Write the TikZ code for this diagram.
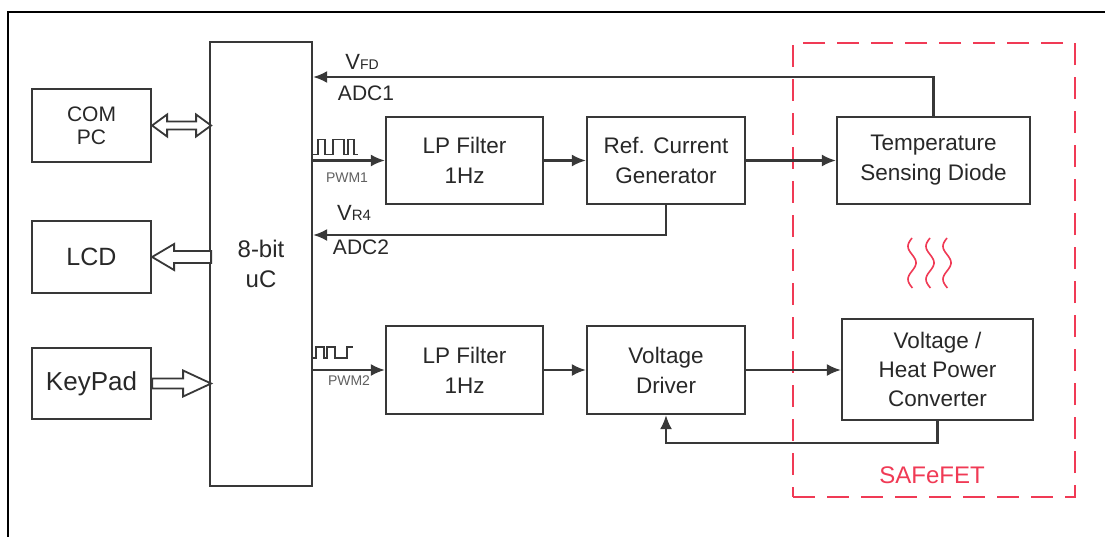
\documentclass[tikz,border=0pt]{standalone}
\usepackage{fontspec}
\setmainfont{Liberation Sans}
\usetikzlibrary{calc,arrows.meta}
\definecolor{ln}{HTML}{383838}
\definecolor{txt}{HTML}{282828}
\definecolor{sred}{HTML}{F03A55}
\begin{document}
\begin{tikzpicture}[x=1pt,y=-1pt]
\tikzset{
  box/.style={draw=ln, line width=2.2pt, rectangle, inner sep=0pt, align=center, text=txt, font=\fontsize{22.5}{30}\selectfont},
  arr/.style={draw=ln, line width=2.2pt, -{Latex[length=14pt,width=12pt]}},
  blk/.style={draw=ln, line width=1.8pt, fill=white, line join=miter},
  lbl/.style={text=txt, inner sep=0pt, font=\fontsize{21}{21}\selectfont},
  pwm/.style={text=ln!80, inner sep=0pt, font=\fontsize{14}{14}\selectfont},
  wave/.style={draw=ln, line width=1.8pt},
  heat/.style={draw=sred, line width=1.6pt},
}
\useasboundingbox (0,0) rectangle (1105,536);
\fill[white] (0,0) rectangle (1105,536);
\draw[black, line width=1.6pt] (8,545) -- (8,12) -- (1115,12);

% boxes
\node[box, minimum width=102, minimum height=444, font=\fontsize{24}{30}\selectfont] (uc) at (261,264) {8-bit\\uC};
\node[box, minimum width=119, minimum height=73, font=\fontsize{21}{23}\selectfont] (com) at (91.5,125.5) {COM\\PC};
\node[box, minimum width=119, minimum height=72, font=\fontsize{25}{25}\selectfont] (lcd) at (91.5,257) {LCD};
\node[box, minimum width=119, minimum height=71, font=\fontsize{26}{26}\selectfont] (kp) at (91.5,383.5) {KeyPad};
\node[box, minimum width=157, minimum height=87] (lp1) at (464.5,160.5) {LP Filter\\1Hz};
\node[box, minimum width=158, minimum height=87] (ref) at (666,160.5) {Ref. Current\\Generator};
\node[box, minimum width=193, minimum height=87] (temp) at (933.5,160.5) {Temperature\\Sensing Diode};
\node[box, minimum width=157, minimum height=88] (lp2) at (464.5,370) {LP Filter\\1Hz};
\node[box, minimum width=158, minimum height=88] (vd) at (666,370) {Voltage\\Driver};
\node[box, minimum width=191, minimum height=101, font=\fontsize{22.5}{29}\selectfont] (conv) at (937.5,369.5) {Voltage /\\Heat Power\\Converter};

% SAFeFET region
\node[draw=sred, line width=2pt, dash pattern=on 22pt off 12pt, minimum width=282, minimum height=454, inner sep=0pt] (safe) at (934,270) {};
\node[text=sred, inner sep=0pt, font=\fontsize{24}{24}\selectfont] (safelbl) at (932,475) {SAFeFET};

% heat waves
\foreach \c in {912,930,947}
  \draw[heat, smooth, samples=40, domain=0:50] plot ({\c - 4*sin(\x*10.909)}, {238+\x});

% labels
\node[lbl] (vfd) at (362,62) {\fontsize{22}{22}\selectfont V{\fontsize{14}{14}\selectfont FD}};
\node[lbl] (adc1) at (366,93) {ADC1};
\node[lbl] (vr4) at (354,213) {\fontsize{22}{22}\selectfont V{\fontsize{15}{15}\selectfont R4}};
\node[lbl] (adc2) at (361,247) {ADC2};
\node[pwm] (pwm1) at (347,178) {PWM1};
\node[pwm] (pwm2) at (349,381) {PWM2};

% helper coordinates
\coordinate (ya) at (0,77);
\coordinate (yb) at (0,235);

% connectors
\draw[arr] (temp.north) |- (uc.east |- ya);
\draw[arr] (uc.east |- lp1.west) -- (lp1.west);
\draw[arr] (lp1.east) -- (ref.west);
\draw[arr] (ref.east) -- (temp.west);
\draw[arr] (ref.south) |- (uc.east |- yb);
\draw[arr] (uc.east |- lp2.west) -- (lp2.west);
\draw[arr] (lp2.east) -- (vd.west);
\draw[arr] (vd.east) -- (vd.east -| conv.west);
\draw[arr] (conv.south) -- ++(0,22) -| (vd.south);

% square waves
\draw[wave] ($(uc.east |- lp1.west)+(0,-6)$) -- ++(5,0) -- ++(0,-15) -- ++(7,0) -- ++(0,15) -- ++(8,0) -- ++(0,-15) -- ++(11,0) -- ++(0,15) -- ++(4,0) -- ++(0,-15) -- ++(6,0) -- ++(0,15) -- ++(4,0);
\draw[wave] ($(uc.east |- lp2.west)+(0,-12)$) -- ++(3,0) -- ++(0,-11) -- ++(8,0) -- ++(0,11) -- ++(3,0) -- ++(0,-11) -- ++(8,0) -- ++(0,11) -- ++(12,0) -- ++(0,-11) -- ++(6,0);

% block arrows
\draw[blk] (com.east) -- ++(15,-11) -- ++(0,7) -- ++(29,0) -- ++(0,-7) -- ++(15,11) -- ++(-15,11) -- ++(0,-7) -- ++(-29,0) -- ++(0,7) -- cycle;
\draw[blk] (lcd.east) -- ++(22,-13) -- ++(0,7) -- ++(37,0) -- ++(0,12) -- ++(-37,0) -- ++(0,7) -- cycle;
\draw[blk] ($(kp.east)+(0,-5)$) -- ++(31,0) -- ++(0,-8) -- ++(28,13) -- ++(-28,13) -- ++(0,-8) -- ++(-31,0) -- cycle;
\end{tikzpicture}
\end{document}
